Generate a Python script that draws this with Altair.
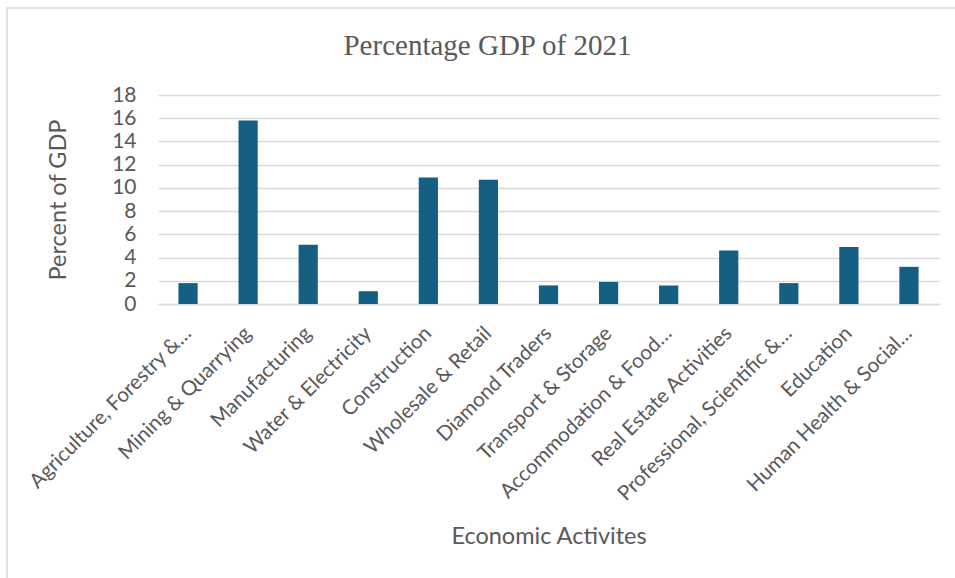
import altair as alt
import pandas as pd

categories = [
    "Agriculture, Forestry &…",
    "Mining & Quarrying",
    "Manufacturing",
    "Water & Electricity",
    "Construction",
    "Wholesale & Retail",
    "Diamond Traders",
    "Transport & Storage",
    "Accommodation & Food…",
    "Real Estate Activities",
    "Professional, Scientific &…",
    "Education",
    "Human Health & Social…",
]
values = [1.8, 15.8, 5.1, 1.1, 10.9, 10.7, 1.6, 1.9, 1.6, 4.6, 1.8, 4.9, 3.2]
y_ticks = [0, 2, 4, 6, 8, 10, 12, 14, 16, 18]

df = pd.DataFrame({"Activity": categories, "Percent": values})

TEXT = "#595959"
GRID = "#D9D9D9"
W, H = 781, 209

bars = alt.Chart(df).mark_bar(color="#156082").encode(
    x=alt.X(
        "Activity:N",
        sort=categories,
        scale=alt.Scale(paddingInner=0.68, paddingOuter=0.34),
        axis=alt.Axis(
            title="Economic Activites",
            labelAngle=-45,
            labelAlign="right",
            labelBaseline="middle",
            labelFont="Lato",
            labelFontSize=20.5,
            labelColor=TEXT,
            labelPadding=26,
            labelLimit=400,
            ticks=False,
            tickSize=0,
            domainColor=GRID,
            domainWidth=1.3,
            titleFont="Lato",
            titleFontSize=23.5,
            titleFontWeight="normal",
            titleColor=TEXT,
            titleX=W / 2,
            titleY=232,
            titleBaseline="middle",
            titleAlign="center",
        ),
    ),
    y=alt.Y(
        "Percent:Q",
        scale=alt.Scale(domain=[0, 18], nice=False),
        axis=alt.Axis(
            title="Percent of GDP",
            values=y_ticks,
            labelFont="Lato",
            labelFontSize=21,
            labelColor=TEXT,
            labelPadding=22,
            ticks=False,
            tickSize=0,
            domain=False,
            gridColor=GRID,
            gridWidth=1.3,
            titleFont="Lato",
            titleFontSize=23.5,
            titleFontWeight="normal",
            titleColor=TEXT,
            titleAngle=-90,
            titleX=-100,
            titleY=H / 2,
            titleBaseline="middle",
            titleAlign="center",
        ),
    ),
)

border = alt.Chart(pd.DataFrame({"k": [0]})).mark_rect(
    fillOpacity=0, stroke=GRID, strokeWidth=1.5
).encode(
    x=alt.value(-151),
    y=alt.value(-87),
    x2=alt.value(W + 30),
    y2=alt.value(H + 300),
)

chart = alt.layer(border, bars).properties(
    width=W,
    height=H,
    title=alt.TitleParams(
        "Percentage GDP of 2021",
        font="Liberation Serif",
        fontSize=29,
        fontWeight="normal",
        color=TEXT,
        anchor="middle",
        dx=-61,
        offset=34,
        dy=88,
    ),
    autosize=alt.AutoSizeParams(type="none"),
    padding={"left": 158, "top": 95, "right": 16, "bottom": 274},
    background="white",
).configure_view(stroke=None)

chart.save("out.html", embed_options={"renderer": "svg", "actions": False})
